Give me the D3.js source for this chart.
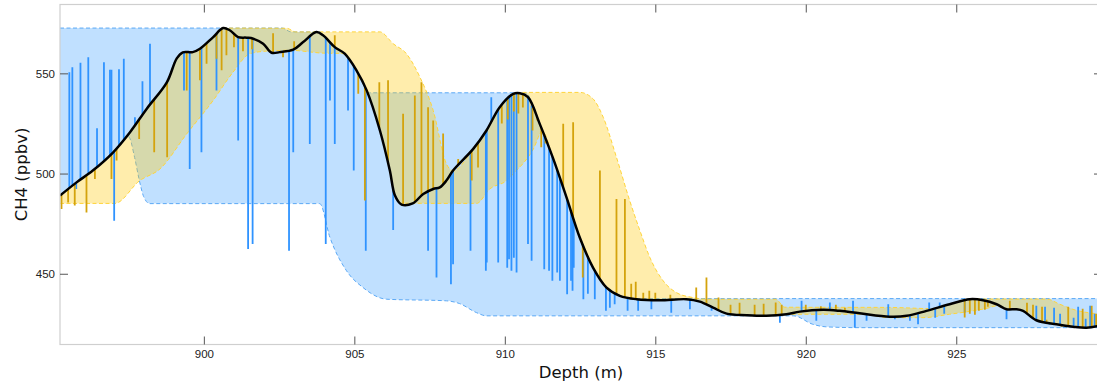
<!DOCTYPE html>
<html>
<head>
<meta charset="utf-8">
<title>CH4 against depth</title>
<script src="https://d3js.org/d3.v7.min.js"></script>
<style>
  body, html { margin: 0; padding: 0; background: #fff; }
  svg { display: block; font-family: "DejaVu Sans", sans-serif; }
  .tick text { fill: #222; font-size: 11.5px; }
  .tick line { stroke: #555; }
  .title { font-size: 16.5px; fill: #111; }
</style>
</head>
<body>
<svg width="1097" height="384"></svg>
<script>
// smoothed record: [depth m, CH4 ppbv]
const smooth = [
  [895.22,489.0],[895.77,495.6],[896.31,501.5],[896.98,510.5],[897.54,520.5],[898.11,532.5],
  [898.77,545.5],[899.10,557.5],[899.30,560.5],[899.63,560.6],[899.87,562.3],[900.31,568.1],
  [900.64,572.6],[900.86,571.5],[901.14,568.1],[901.42,567.8],[901.64,567.3],[901.97,564.8],
  [902.25,560.3],[902.52,560.6],[902.97,561.8],[903.30,565.6],[903.74,570.6],[903.96,569.0],
  [904.35,563.1],[904.68,559.8],[905.07,551.5],[905.41,541.5],[905.85,521.5],[906.18,501.5],
  [906.35,489.0],[906.57,484.5],[906.94,485.1],[907.29,489.8],[907.62,492.3],[907.84,493.1],
  [908.06,496.5],[908.28,501.5],[908.95,512.3],[909.39,521.5],[909.83,533.1],[910.28,539.8],
  [910.50,540.1],[910.77,538.1],[911.16,524.8],[911.61,507.3],[912.05,488.1],[912.49,468.1],
  [912.93,453.1],[913.38,443.1],[913.82,439.0],[914.38,437.3],[915.15,436.8],[916.04,437.3],
  [916.48,436.1],[916.92,433.1],[917.37,430.1],[918.03,429.3],[918.69,429.0],[919.36,429.8],
  [919.80,431.1],[920.58,432.0],[921.13,431.5],[921.79,430.3],[922.79,428.6],[923.35,429.0],
  [924.01,431.5],[924.78,434.8],[925.45,437.3],[925.89,436.8],[926.34,434.8],[926.67,432.3],
  [927.00,432.3],[927.22,431.5],[927.66,426.8],[928.33,424.8],[928.88,423.6],[929.33,423.1],
  [929.84,424.3]
];

// blue record envelope
const blueUpper = [
  [895.22,572.6],[902.6,572.6],[902.9,570.7],[903.85,570.7],[904.0,568.5],[904.35,563.1],
  [904.68,559.8],[905.07,551.5],[905.3,544.5],[905.5,540.3],[910.7,540.3],[910.9,535.5],
  [911.16,525.0],[911.61,507.5],[912.05,488.5],[912.49,468.5],[912.93,453.5],[913.38,443.5],
  [913.82,439.3],[914.3,437.6],[929.84,437.6]
];
const blueLower = [
  [895.22,489.0],[895.77,495.6],[896.31,501.5],[896.98,510.5],[897.5,518.3],[897.7,508.0],
  [897.85,497.0],[898.0,488.5],[898.2,485.0],[903.85,485.0],[904.19,468.1],[904.74,451.5],
  [905.29,443.1],[906.07,437.3],[908.06,436.5],[908.5,435.1],[909.06,430.6],[909.39,429.0],
  [919.6,429.0],[920.23,424.8],[920.69,423.5],[921.8,423.1],[929.84,423.1]
];

// yellow record envelope
const yellowUpper = [
  [895.22,489.0],[895.77,495.6],[896.31,501.5],[896.98,510.5],[897.54,520.5],[898.11,532.5],
  [898.77,545.5],[899.10,557.5],[899.30,560.5],[899.63,560.6],[899.87,562.3],[900.31,568.1],
  [900.64,572.6],[902.75,572.5],[903.05,570.7],[905.85,570.7],[906.29,564.8],[906.73,559.8],
  [907.18,548.1],[907.62,531.5],[908.06,504.8],[908.28,501.5],[908.95,512.3],[909.39,521.5],
  [909.83,533.1],[910.28,539.8],[910.5,540.5],[912.49,540.5],[912.93,537.3],[913.27,528.1],
  [913.71,508.1],[914.15,486.5],[914.49,471.5],[914.82,458.1],[915.26,446.5],[915.70,440.6],
  [916.26,438.1],[916.70,437.3],[919.0,437.3],[919.3,433.3],[922.8,433.2],[924.2,432.6],
  [924.78,434.8],[925.45,437.4],[928.0,437.4],[928.44,434.8],[928.87,432.3],[929.84,429.8]
];
const yellowLower = [
  [895.22,485.1],[897.04,485.1],[897.87,496.5],[898.54,502.3],[899.43,519.8],[900.31,536.5],
  [900.97,550.6],[901.53,559.8],[902.08,561.1],[902.86,561.5],[903.96,560.1],[904.6,559.9],
  [905.07,551.5],[905.41,541.5],[905.85,521.5],[906.18,501.5],[906.35,489.0],[906.55,485.2],
  [909.06,485.1],[909.50,492.3],[910.06,496.5],[910.28,499.8],[910.94,512.0],[911.25,521.0],
  [911.61,507.3],[912.05,488.1],[912.49,468.1],[912.93,453.1],[913.38,443.1],[913.82,439.0],
  [914.38,437.3],[915.15,436.8],[916.04,437.3],[916.48,436.1],[916.92,433.1],[917.37,430.1],
  [918.03,429.3],[918.69,429.0],[919.36,429.8],[921.8,429.8],[922.79,428.1],[923.9,428.1],
  [924.78,429.8],[925.55,431.5],[926.11,433.1],[926.33,434.0],[926.67,432.3],[927.0,432.3],
  [927.22,431.5],[927.66,426.8],[928.33,424.8],[928.88,423.6],[929.33,423.1],[929.84,424.3]
];

// individual samples (drawn as departures from the smoothed record)
const blueSamples = [
  [895.53,550.6],[895.63,553.1],[895.76,492.3],[895.90,555.3],[896.16,558.1],[896.45,522.6],
  [896.68,555.6],[896.88,551.8],[896.93,551.8],[897.02,476.5],[897.18,552.0],[897.34,557.3],
  [897.71,528.1],[897.96,546.0],[898.21,564.8],[899.34,541.5],[899.53,502.3],[899.92,510.6],
  [900.42,541.5],[901.14,516.5],[901.47,462.3],[901.62,464.8],[902.83,461.5],[902.97,510.6],
  [903.52,514.8],[904.05,464.8],[904.19,536.5],[904.35,514.8],[904.79,531.5],[904.98,501.5],
  [905.38,461.5],[906.29,471.8],[907.45,461.5],[907.73,448.1],[908.21,444.8],[908.28,454.8],
  [908.86,461.5],[909.37,451.5],[909.40,455.6],[909.55,538.1],[909.78,455.6],[910.08,453.0],
  [910.14,457.3],[910.22,451.5],[910.30,458.0],[910.39,450.6],[910.77,464.8],[910.89,456.5],
  [911.31,452.3],[911.47,451.5],[911.58,446.5],[911.74,450.6],[911.83,446.5],[912.07,439.8],
  [912.20,446.5],[912.25,441.5],[912.29,453.0],[912.61,437.3],[912.76,440.0],[912.99,437.3],
  [913.36,431.5],[913.49,433.1],[913.65,434.8],[914.08,431.5],[914.43,431.5],[914.87,432.3],
  [915.53,430.6],[916.15,432.3],[916.87,431.5],[919.14,425.6],[919.86,436.5],[920.35,426.5],
  [920.80,435.6],[921.57,436.5],[921.63,423.1],[922.02,426.5],[922.74,434.8],[922.96,427.3],
  [923.46,426.5],[923.73,424.8],[924.10,435.6],[924.30,428.1],[924.45,435.6],[924.60,430.0],
  [925.28,430.6],[926.67,427.3],[927.66,434.0],[927.80,425.5],[927.95,433.5],[928.10,424.5],
  [928.25,433.0],[928.45,430.0],[928.90,428.0],[929.05,433.5],[929.30,427.5],[929.45,434.0],
  [929.60,430.0]
];
const yellowSamples = [
  [895.27,482.3],[895.49,485.6],[895.71,484.0],[896.10,480.6],[896.38,497.3],[896.93,497.3],
  [897.10,506.5],[897.85,517.3],[897.88,528.1],[898.35,510.6],[898.78,508.1],[899.43,541.5],
  [899.87,546.5],[900.09,554.8],[900.42,557.3],[900.59,551.5],[900.75,559.0],[901.00,563.0],
  [901.30,561.0],[901.60,562.0],[902.30,570.0],[902.63,558.0],[903.00,566.0],[904.35,569.0],
  [905.13,539.8],[905.35,486.5],[905.83,545.6],[906.12,546.5],[906.62,529.8],[907.01,539.0],
  [907.23,545.6],[907.45,533.1],[907.62,526.5],[907.95,520.0],[908.45,507.3],[908.90,496.5],
  [909.11,503.0],[909.90,525.0],[910.10,527.0],[910.30,531.0],[910.45,530.0],[910.60,533.0],
  [910.92,521.5],[911.08,526.5],[911.21,513.1],[911.35,515.0],[911.94,524.8],[912.27,525.6],
  [912.59,448.1],[913.16,501.5],[913.71,487.3],[913.99,487.3],[914.20,445.0],[914.35,446.0],
  [914.60,440.5],[914.80,441.5],[915.00,440.5],[915.50,439.5],[916.36,443.1],[916.70,448.1],
  [917.10,438.1],[917.50,434.5],[917.80,435.5],[918.30,434.5],[918.60,435.0],[919.00,435.6],
  [919.20,434.5],[920.00,434.5],[920.50,433.8],[921.00,434.5],[921.30,433.0],[925.28,428.2],
  [925.45,430.0],[925.62,429.5],[925.75,431.5],[925.95,432.0],[926.05,433.5],[926.78,436.5],
  [927.35,435.5],[927.55,434.5],[927.85,433.5],[928.00,427.0],[928.50,423.5],[928.72,433.5],
  [929.20,432.5],[929.50,434.0],[929.65,430.0]
];

const xTicks = [900, 905, 910, 915, 920, 925];
const yTicks = [450, 500, 550];

const svg = d3.select("svg");
const margin = { left: 60, top: 4.5 };
const width = 1042, height = 340;

const x = d3.scaleLinear().domain([895.22, 895.22 + width / 30.096]).range([0, width]);
const y = d3.scaleLinear().domain([414.7, 414.7 + height / 2.004]).range([height, 0]);

const g = svg.append("g").attr("transform", `translate(${margin.left},${margin.top})`);

g.append("clipPath").attr("id", "plot")
  .append("rect").attr("width", width).attr("height", height);
const plot = g.append("g").attr("clip-path", "url(#plot)");

const edge = d3.line().x(d => x(d[0])).y(d => y(d[1])).curve(d3.curveMonotoneX);

function band(upper, lower, fill, opacity, stroke) {
  const top = edge(upper);
  const bottom = edge(lower.slice().reverse());
  plot.append("path")
    .attr("d", top + bottom.replace(/^M/, "L") + "Z")
    .attr("fill", fill).attr("fill-opacity", opacity).attr("stroke", "none");
  [upper, lower].forEach(e => plot.append("path")
    .attr("d", edge(e))
    .attr("fill", "none").attr("stroke", stroke)
    .attr("stroke-width", 1).attr("stroke-dasharray", "4,2.5"));
}

band(blueUpper, blueLower, "#1e90ff", 0.28, "#5aa8f5");
band(yellowUpper, yellowLower, "#ffcc11", 0.35, "#ffd43a");

// base of each sample line sits on the smoothed record
const sd = smooth.map(d => d[0]), sv = smooth.map(d => d[1]);
const base = d3.scaleLinear().domain(sd).range(sv).clamp(true);

function spikes(data, color) {
  plot.append("g").selectAll("line")
    .data(data)
    .join("line")
    .attr("x1", d => x(d[0])).attr("x2", d => x(d[0]))
    .attr("y1", d => y(base(d[0]))).attr("y2", d => y(d[1]))
    .attr("stroke", color).attr("stroke-width", 1.8);
}
spikes(blueSamples, "#2f93ff");
spikes(yellowSamples, "#d4a30c");

plot.append("path")
  .datum(smooth)
  .attr("d", d3.line().x(d => x(d[0])).y(d => y(d[1])).curve(d3.curveCatmullRom.alpha(0.5)))
  .attr("fill", "none").attr("stroke", "#000").attr("stroke-width", 2.5);

// frame
g.append("rect").attr("width", width).attr("height", height)
  .attr("fill", "none").attr("stroke", "#cfcfcf").attr("stroke-width", 1.2);

const ax = (axis, t) => { const a = g.append("g").attr("transform", t).call(axis); a.select(".domain").remove(); return a; };
ax(d3.axisBottom(x).tickValues(xTicks).tickSize(-8).tickPadding(5).tickFormat(d3.format("d")), `translate(0,${height})`);
ax(d3.axisTop(x).tickValues(xTicks).tickSize(-8).tickFormat(""), "translate(0,0)");
ax(d3.axisLeft(y).tickValues(yTicks).tickSize(-8).tickPadding(5).tickFormat(d3.format("d")), "translate(0,0)");
ax(d3.axisRight(y).tickValues(yTicks).tickSize(-8).tickFormat(""), `translate(${width},0)`);

g.append("text").attr("class", "title")
  .attr("x", width / 2).attr("y", height + 33)
  .attr("text-anchor", "middle").text("Depth (m)");
g.append("text").attr("class", "title")
  .attr("transform", `translate(${-33},${height / 2}) rotate(-90)`)
  .attr("text-anchor", "middle").text("CH4 (ppbv)");
</script>
</body>
</html>
